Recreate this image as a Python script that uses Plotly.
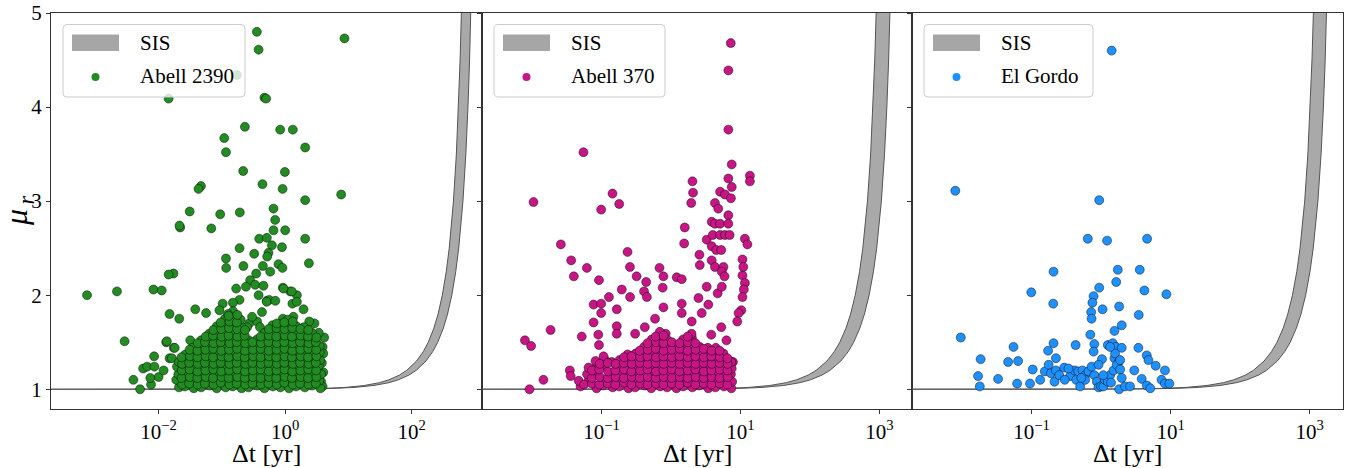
import plotly.graph_objects as go

# ---------------- SIS model band ----------------
sis_mu = [1.0000001, 1.0001, 1.001, 1.003, 1.01, 1.02, 1.04, 1.07, 1.1, 1.15, 1.2, 1.3, 1.4, 1.5,
          1.65, 1.8, 2.0, 2.25, 2.5, 2.75, 3.0, 3.5, 4.0, 4.5, 5.0, 5.5]
sis_frac = [5e-8, 5e-5, 0.0005, 0.0015, 0.004975, 0.0099, 0.0196, 0.0338, 0.0476, 0.0698, 0.0909,
            0.1304, 0.1667, 0.2, 0.2453, 0.2857, 0.3333, 0.3846, 0.4286, 0.4667, 0.5, 0.5556, 0.6,
            0.6364, 0.6667, 0.6923]
sis_T_low = [912, 1349, 1698]
sis_T_high = [1288, 2138, 2630]

# ---------------- Abell 2390 ----------------
a2390_dt_sparse = [0.357, 0.38, 8.65, 0.0144, 0.47, 0.50, 0.173,
                   0.231, 0.109, 0.116, 0.834, 1.32, 2.07,
                   0.217, 0.99, 0.438, 0.91, 0.0467, 0.0427, 2.07, 7.67,
                   0.031, 0.094, 0.192, 0.654, 0.695, 0.0219, 0.0214, 0.068, 0.654, 1.0,
                   0.389, 0.513, 2.07, 0.617, 0.89, 0.19, 0.324, 0.545, 0.52, 0.116, 0.117, 0.219, 0.444, 0.784, 0.906, 0.58, 2.37,
                   0.0172, 0.0144, 0.348, 0.28, 0.24, 0.336, 0.454, 0.168, 0.38, 0.92, 1.2, 1.53, 0.00074, 0.0022, 0.0083, 0.0112,
                   0.19, 0.149, 0.513, 0.56, 1.30, 1.95, 0.103, 0.038, 0.0149, 0.0212, 0.0563, 0.0916, 0.43, 0.92, 1.35, 0.51, 0.70, 0.94, 1.27, 1.53,
                   0.0029, 0.0132, 0.0174, 0.0085, 0.0149, 4.13, 0.004, 0.0051, 0.0057, 0.0066, 0.0086, 0.0076, 0.010, 0.012, 0.0074, 0.0162, 0.0135, 0.018, 0.0316,
                   3.9, 4.0, 3.8, 4.0, 3.7, 3.9, 3.4, 2.9, 2.4,
                   0.27, 0.36, 0.30, 0.25, 0.40]
a2390_mu_sparse = [4.80, 4.61, 4.73, 4.09, 4.10, 4.09, 4.34,
                   3.79, 3.67, 3.52, 3.76, 3.76, 3.57,
                   3.32, 3.31, 3.18, 3.13, 3.16, 3.13, 3.01, 3.07,
                   2.89, 2.86, 2.88, 2.92, 2.80, 2.72, 2.74, 2.71, 2.69, 2.69,
                   2.60, 2.61, 2.60, 2.53, 2.51, 2.50, 2.44, 2.45, 2.41, 2.39, 2.29, 2.31, 2.31, 2.33, 2.29, 2.25, 2.34,
                   2.23, 2.22, 2.23, 2.16, 2.09, 2.11, 2.10, 2.07, 2.00, 2.08, 2.04, 2.00, 2.00, 2.04, 2.06, 2.05,
                   1.95, 1.92, 1.94, 1.95, 1.91, 1.85, 1.91, 1.85, 1.80, 1.75, 1.81, 1.84, 1.82, 1.75, 1.77, 1.93, 1.94, 2.07, 2.04, 1.93,
                   1.51, 1.50, 1.44, 1.35, 1.33, 1.55, 1.10, 1.00, 1.22, 1.24, 1.24, 1.05, 1.13, 1.20, 1.12, 1.33, 1.51, 1.44, 1.52,
                   1.45, 1.38, 1.28, 1.18, 1.08, 1.03, 1.60, 1.70, 1.72,
                   1.70, 1.72, 1.77, 1.66, 1.66]
a2390_dt_dense = [0.021, 0.026, 0.036, 0.047, 0.064, 0.083, 0.115, 0.148, 0.205, 0.265, 0.36, 0.47, 0.64, 0.84, 1.15, 1.48, 2.05, 2.65, 3.6,
                  0.019, 0.028, 0.034, 0.049, 0.061, 0.087, 0.109, 0.155, 0.195, 0.275, 0.345, 0.49, 0.61, 0.87, 1.09, 1.55, 1.95, 2.75, 3.45,
                  0.0205, 0.0265, 0.0355, 0.046, 0.065, 0.082, 0.118, 0.146, 0.21, 0.26, 0.37, 0.46, 0.66, 0.82, 1.18, 1.45, 2.1, 2.6, 3.7,
                  0.0195, 0.0275, 0.0345, 0.05, 0.062, 0.088, 0.108, 0.157, 0.198, 0.28, 0.35, 0.5, 0.6, 0.88, 1.08, 1.58, 1.92, 2.8, 3.4,
                  0.021, 0.027, 0.036, 0.047, 0.064, 0.084, 0.114, 0.149, 0.2, 0.27, 0.36, 0.48, 0.64, 0.85, 1.13, 1.5, 2.02, 2.68, 3.55,
                  0.0265, 0.035, 0.048, 0.063, 0.086, 0.111, 0.152, 0.205, 0.268, 0.355, 0.485, 0.625, 0.86, 1.11, 1.52, 1.98, 2.72, 3.5,
                  0.034, 0.049, 0.062, 0.085, 0.113, 0.15, 0.198, 0.272, 0.35, 0.475, 0.635, 0.845, 1.14, 1.49, 2.04, 2.66, 3.5,
                  0.047, 0.064, 0.084, 0.11, 0.153, 0.202, 0.265, 0.36, 0.49, 0.62, 0.87, 1.1, 1.53, 1.97, 2.75,
                  0.063, 0.086, 0.112, 0.148, 0.197, 0.475, 0.64, 0.84, 1.15, 1.49, 2.05, 2.65,
                  0.083, 0.114, 0.15, 0.2, 0.63, 0.85, 1.12, 1.51, 1.98,
                  0.112, 0.152, 0.198, 1.1, 0.15, 0.125]
a2390_mu_dense = [1.02, 1.03, 1.01, 1.02, 1.04, 1.01, 1.02, 1.03, 1.01, 1.02, 1.04, 1.01, 1.03, 1.02, 1.01, 1.03, 1.02, 1.04, 1.01,
                  1.10, 1.08, 1.09, 1.11, 1.08, 1.10, 1.09, 1.07, 1.10, 1.09, 1.08, 1.11, 1.09, 1.08, 1.10, 1.09, 1.11, 1.08, 1.09,
                  1.16, 1.17, 1.15, 1.16, 1.18, 1.15, 1.16, 1.17, 1.15, 1.16, 1.18, 1.17, 1.15, 1.16, 1.17, 1.15, 1.16, 1.18, 1.16,
                  1.24, 1.23, 1.25, 1.24, 1.22, 1.25, 1.24, 1.23, 1.25, 1.24, 1.22, 1.24, 1.25, 1.23, 1.24, 1.25, 1.23, 1.24, 1.25,
                  1.29, 1.31, 1.32, 1.30, 1.31, 1.33, 1.31, 1.30, 1.32, 1.31, 1.30, 1.32, 1.31, 1.33, 1.30, 1.31, 1.32, 1.30, 1.31,
                  1.37, 1.38, 1.39, 1.37, 1.38, 1.40, 1.38, 1.37, 1.39, 1.38, 1.37, 1.39, 1.38, 1.37, 1.40, 1.38, 1.37, 1.39,
                  1.44, 1.46, 1.47, 1.45, 1.46, 1.47, 1.45, 1.46, 1.47, 1.45, 1.46, 1.47, 1.45, 1.46, 1.47, 1.45, 1.46,
                  1.52, 1.53, 1.54, 1.52, 1.53, 1.54, 1.52, 1.53, 1.54, 1.52, 1.53, 1.54, 1.52, 1.53, 1.54,
                  1.59, 1.60, 1.61, 1.60, 1.59, 1.60, 1.61, 1.59, 1.61, 1.60, 1.59, 1.60,
                  1.67, 1.68, 1.69, 1.67, 1.68, 1.69, 1.68, 1.67, 1.66,
                  1.75, 1.76, 1.74, 1.74, 1.83, 1.80]
a2390_dt_fill = [0.0235, 0.0305, 0.0415, 0.054, 0.074, 0.096, 0.132, 0.172, 0.235, 0.305, 0.415, 0.545, 0.74, 0.97, 1.32, 1.72, 2.35, 3.05,
                 0.023, 0.0312, 0.041, 0.0555, 0.0725, 0.099, 0.128, 0.176, 0.23, 0.312, 0.41, 0.555, 0.725, 0.985, 1.28, 1.76, 2.3, 3.12,
                 0.0232, 0.0309, 0.0412, 0.055, 0.0733, 0.0977, 0.130, 0.174, 0.232, 0.309, 0.412, 0.55, 0.733, 0.977, 1.30, 1.74, 2.32, 3.09,
                 0.0235, 0.0305, 0.0415, 0.054, 0.074, 0.096, 0.132, 0.172, 0.235, 0.305, 0.415, 0.545, 0.74, 0.97, 1.32, 1.72, 2.35, 3.05,
                 0.023, 0.0312, 0.041, 0.0555, 0.0725, 0.099, 0.128, 0.176, 0.23, 0.312, 0.41, 0.555, 0.725, 0.985, 1.28, 1.76, 2.3, 3.12,
                 0.0309, 0.0412, 0.055, 0.0733, 0.0977, 0.130, 0.174, 0.232, 0.309, 0.412, 0.55, 0.733, 0.977, 1.30, 1.74, 2.32, 3.09,
                 0.0415, 0.054, 0.074, 0.096, 0.132, 0.172, 0.235, 0.305, 0.415, 0.545, 0.74, 0.97, 1.32, 1.72, 2.35, 3.05,
                 0.0555, 0.0725, 0.099, 0.128, 0.176, 0.23, 0.41, 0.555, 0.725, 0.985, 1.28, 1.76, 2.3, 3.12,
                 0.0733, 0.0977, 0.130, 0.174, 0.232, 0.55, 0.733, 0.977, 1.30, 1.74, 2.32,
                 0.096, 0.132, 0.172, 0.74, 0.97, 1.32,
                 0.128, 0.176]
a2390_mu_fill = [1.05, 1.06, 1.05, 1.06, 1.05, 1.07, 1.05, 1.06, 1.05, 1.06, 1.05, 1.06, 1.05, 1.07, 1.05, 1.06, 1.05, 1.06,
                 1.12, 1.13, 1.12, 1.13, 1.12, 1.13, 1.12, 1.13, 1.12, 1.13, 1.12, 1.13, 1.12, 1.13, 1.12, 1.13, 1.12, 1.13,
                 1.20, 1.21, 1.19, 1.20, 1.21, 1.19, 1.20, 1.21, 1.19, 1.20, 1.21, 1.19, 1.20, 1.21, 1.19, 1.20, 1.21, 1.20,
                 1.27, 1.28, 1.27, 1.28, 1.27, 1.28, 1.27, 1.28, 1.27, 1.28, 1.27, 1.28, 1.27, 1.28, 1.27, 1.28, 1.27, 1.28,
                 1.34, 1.35, 1.34, 1.35, 1.34, 1.35, 1.34, 1.35, 1.34, 1.35, 1.34, 1.35, 1.34, 1.35, 1.34, 1.35, 1.34, 1.35,
                 1.42, 1.41, 1.42, 1.43, 1.41, 1.42, 1.43, 1.41, 1.42, 1.43, 1.41, 1.42, 1.43, 1.41, 1.42, 1.43, 1.42,
                 1.49, 1.50, 1.49, 1.50, 1.49, 1.50, 1.49, 1.50, 1.49, 1.50, 1.49, 1.50, 1.49, 1.50, 1.49, 1.50,
                 1.56, 1.57, 1.56, 1.57, 1.56, 1.57, 1.56, 1.57, 1.56, 1.57, 1.56, 1.57, 1.56, 1.55,
                 1.63, 1.64, 1.65, 1.64, 1.63, 1.64, 1.65, 1.64, 1.65, 1.64, 1.63,
                 1.71, 1.72, 1.71, 1.70, 1.71, 1.72,
                 1.78, 1.79]

# ---------------- Abell 370 ----------------
a370_dt_sparse = [7.26, 6.71, 6.71, 0.055, 0.0105, 7.5, 13.7, 13.7, 6.7, 7.5,
                  2.04, 2.08, 1.96, 5.1, 6.0, 7.3, 4.3, 4.8, 6.7, 3.86, 4.3, 5.1, 6.7,
                  1.58, 1.55, 3.27, 4.0, 5.1, 6.0, 7.0, 3.86, 4.5, 5.3, 11.6, 12.6, 0.026,
                  2.57, 2.6, 3.86, 4.3, 5.7, 10.7, 0.0366, 0.040, 0.237, 0.257, 0.0616, 0.092, 0.144, 0.18, 0.099,
                  0.684, 0.78, 1.21, 1.43, 0.32, 0.44, 0.76, 0.196, 0.258, 0.41, 0.45, 0.128, 0.166, 0.077, 0.099, 0.099,
                  0.077, 0.166, 0.78, 1.43, 1.43, 2.49, 3.27, 3.45, 4.7, 5.4, 5.4, 5.9,
                  10.7, 11.6, 11.2, 10.7, 10.3, 9.4, 9.0, 11.0, 7.8,
                  0.0185, 0.0079, 0.0097, 0.0092, 0.0146, 0.035, 0.036, 0.052, 0.09, 0.092, 0.166, 0.305, 0.42, 0.59, 0.84, 1.99, 2.77, 3.8, 5.3, 6.3]
a370_mu_sparse = [4.68, 4.39, 3.76, 3.52, 2.99, 3.39, 3.27, 3.21, 3.24, 3.15,
                  3.21, 3.09, 2.98, 3.10, 3.07, 3.03, 2.98, 2.92, 2.85, 2.78, 2.76, 2.76, 2.76,
                  2.72, 2.55, 2.59, 2.64, 2.64, 2.64, 2.64, 2.52, 2.48, 2.48, 2.60, 2.54, 2.54,
                  2.43, 2.32, 2.37, 2.30, 2.30, 2.38, 2.37, 2.20, 2.46, 2.30, 2.29, 2.16, 3.08, 2.97, 2.91,
                  2.29, 2.20, 2.19, 2.17, 2.20, 2.14, 2.08, 2.06, 1.98, 2.04, 1.98, 1.98, 1.85, 1.90, 1.91, 1.81,
                  1.71, 1.67, 1.87, 1.91, 1.81, 1.97, 2.09, 1.90, 2.02, 2.09, 2.25, 2.20,
                  2.21, 2.13, 2.06, 1.98, 1.84, 1.81, 1.72, 2.30, 1.29,
                  1.63, 1.52, 1.46, 1.00, 1.10, 1.20, 1.14, 1.56, 1.58, 1.47, 1.59, 1.59, 1.66, 1.75, 1.59, 1.72, 1.81, 1.58, 1.66, 1.52]
a370_dt_dense = [0.05, 0.085, 0.105, 0.145, 0.18, 0.245, 0.305, 0.415, 0.52, 0.70, 0.88, 1.2, 1.5, 2.03, 2.55, 3.45, 4.35, 5.8, 7.4,
                 0.047, 0.066, 0.11, 0.138, 0.187, 0.235, 0.32, 0.40, 0.54, 0.68, 0.92, 1.15, 1.56, 1.95, 2.63, 3.32, 4.5, 5.65, 7.6,
                 0.062, 0.081, 0.143, 0.18, 0.242, 0.308, 0.41, 0.525, 0.695, 0.89, 1.18, 1.52, 2.0, 2.6, 3.4, 4.4, 5.8, 7.3,
                 0.065, 0.085, 0.106, 0.185, 0.236, 0.315, 0.40, 0.535, 0.685, 0.91, 1.16, 1.54, 1.98, 2.58, 3.36, 4.45, 5.7, 7.5,
                 0.082, 0.11, 0.14, 0.182, 0.24, 0.31, 0.41, 0.53, 0.69, 0.9, 1.17, 1.53, 1.99, 2.59, 3.38, 4.41, 5.74, 7.4,
                 0.107, 0.238, 0.31, 0.4, 0.53, 0.7, 0.9, 1.16, 1.52, 2.0, 2.6, 3.35, 4.4, 5.7,
                 0.41, 0.53, 0.69, 0.89, 1.18, 1.55, 1.98, 2.6, 3.4, 4.42,
                 0.53, 0.69, 0.9, 1.5, 2.0,
                 0.69, 1.98]
a370_mu_dense = [1.03, 1.01, 1.04, 1.02, 1.03, 1.01, 1.02, 1.04, 1.01, 1.03, 1.02, 1.01, 1.03, 1.02, 1.04, 1.01, 1.02, 1.03, 1.01,
                 1.09, 1.10, 1.08, 1.09, 1.11, 1.08, 1.10, 1.09, 1.08, 1.10, 1.09, 1.11, 1.08, 1.10, 1.09, 1.08, 1.10, 1.09, 1.08,
                 1.16, 1.17, 1.15, 1.16, 1.17, 1.15, 1.16, 1.18, 1.15, 1.16, 1.17, 1.15, 1.16, 1.17, 1.15, 1.16, 1.17, 1.16,
                 1.23, 1.24, 1.25, 1.24, 1.23, 1.25, 1.24, 1.23, 1.25, 1.24, 1.23, 1.24, 1.25, 1.23, 1.24, 1.25, 1.23, 1.22,
                 1.30, 1.32, 1.29, 1.31, 1.32, 1.30, 1.31, 1.32, 1.30, 1.31, 1.32, 1.30, 1.31, 1.32, 1.30, 1.31, 1.32, 1.29,
                 1.35, 1.37, 1.38, 1.39, 1.38, 1.37, 1.39, 1.38, 1.37, 1.39, 1.38, 1.37, 1.39, 1.38,
                 1.45, 1.46, 1.47, 1.45, 1.46, 1.47, 1.46, 1.45, 1.44, 1.44,
                 1.53, 1.54, 1.52, 1.53, 1.55,
                 1.61, 1.59]
a370_dt_fill = [0.056, 0.073, 0.093, 0.124, 0.158, 0.212, 0.27, 0.36, 0.46, 0.61, 0.78, 1.03, 1.33, 1.75, 2.25, 2.98, 3.82, 5.05, 6.5,
                0.0724, 0.0944, 0.123, 0.160, 0.209, 0.273, 0.356, 0.464, 0.604, 0.787, 1.026, 1.34, 1.74, 2.27, 2.96, 3.85, 5.02, 6.55,
                0.073, 0.093, 0.124, 0.158, 0.212, 0.27, 0.36, 0.46, 0.61, 0.78, 1.03, 1.33, 1.75, 2.25, 2.98, 3.82, 5.05, 6.5,
                0.0944, 0.123, 0.160, 0.209, 0.273, 0.356, 0.464, 0.604, 0.787, 1.026, 1.34, 1.74, 2.27, 2.96, 3.85, 5.02, 6.55,
                0.212, 0.27, 0.36, 0.46, 0.61, 0.78, 1.03, 1.33, 1.75, 2.25, 2.98, 3.82, 5.05, 6.5,
                0.356, 0.464, 0.604, 0.787, 1.026, 1.34, 1.74, 2.27, 2.96, 3.85, 5.02,
                0.46, 0.61, 0.78, 1.03, 1.33, 1.75, 2.25,
                0.604, 0.787, 1.74]
a370_mu_fill = [1.05, 1.06, 1.05, 1.06, 1.05, 1.07, 1.05, 1.06, 1.05, 1.06, 1.05, 1.06, 1.05, 1.07, 1.05, 1.06, 1.05, 1.06, 1.05,
                1.12, 1.13, 1.12, 1.13, 1.12, 1.13, 1.12, 1.13, 1.12, 1.13, 1.12, 1.13, 1.12, 1.13, 1.12, 1.13, 1.12, 1.13,
                1.20, 1.21, 1.19, 1.20, 1.21, 1.19, 1.20, 1.21, 1.19, 1.20, 1.21, 1.19, 1.20, 1.21, 1.19, 1.20, 1.21, 1.20,
                1.27, 1.28, 1.27, 1.28, 1.27, 1.28, 1.27, 1.28, 1.27, 1.28, 1.27, 1.28, 1.27, 1.28, 1.27, 1.28, 1.27,
                1.34, 1.35, 1.34, 1.35, 1.34, 1.35, 1.34, 1.35, 1.34, 1.35, 1.34, 1.35, 1.34, 1.33,
                1.41, 1.42, 1.43, 1.41, 1.42, 1.43, 1.41, 1.42, 1.43, 1.41, 1.41,
                1.49, 1.50, 1.49, 1.50, 1.49, 1.50, 1.49,
                1.56, 1.57, 1.56]

# ---------------- El Gordo ----------------
elgordo_dt = [1.42, 0.0080, 0.94, 0.644, 1.22, 4.59, 0.207, 1.74, 3.6, 1.65, 0.099, 4.2, 8.7, 0.94, 0.78, 0.75, 0.205, 1.82, 1.05, 0.72, 0.73, 3.48, 1.98, 1.56, 0.70, 0.0096,
              0.207, 0.43, 0.80, 1.25, 1.47, 1.63, 1.98, 0.055, 3.44, 0.173, 0.78, 4.54, 0.0185, 0.046, 0.064, 0.224, 1.03, 1.56, 1.79, 4.8, 6.1, 8.3,
              0.017, 0.033, 0.018, 0.062, 0.095, 0.104, 0.133, 0.155, 0.176, 0.19, 0.214, 0.224, 0.295, 0.36, 0.417, 0.47, 0.54, 0.59, 0.44, 0.50,
              0.66, 0.80, 0.87, 0.92, 1.0, 1.08, 1.14, 1.25, 1.35, 1.51, 1.68, 1.88, 1.98, 1.82, 2.21, 2.61, 3.0, 3.84, 4.55, 5.1, 7.4, 8.3, 9.6,
              0.34, 0.59, 0.73, 1.08, 0.92, 1.39, 1.59, 1.35, 1.88, 0.25, 0.52, 0.30]
elgordo_mu = [4.60, 3.11, 3.01, 2.60, 2.58, 2.60, 2.25, 2.27, 2.27, 2.14, 2.03, 2.05, 2.01, 2.08, 1.99, 1.92, 1.91, 1.88, 1.85, 1.82, 1.75, 1.79, 1.68, 1.62, 1.58, 1.55,
              1.49, 1.47, 1.48, 1.47, 1.49, 1.45, 1.44, 1.45, 1.44, 1.41, 1.40, 1.36, 1.32, 1.29, 1.30, 1.33, 1.32, 1.33, 1.29, 1.31, 1.25, 1.20,
              1.14, 1.11, 1.03, 1.06, 1.06, 1.21, 1.10, 1.19, 1.26, 1.17, 1.08, 1.20, 1.23, 1.14, 1.20, 1.19, 1.20, 1.15, 1.10, 1.03,
              1.19, 1.15, 1.08, 1.02, 1.03, 1.03, 1.10, 1.08, 1.15, 1.20, 1.26, 1.21, 1.12, 1.00, 1.03, 1.03, 1.20, 1.11, 1.04, 1.01, 1.10, 1.06, 1.06,
              1.22, 1.10, 1.24, 1.15, 1.26, 1.07, 1.38, 1.45, 1.31, 1.15, 1.12, 1.10]

cluster_names = ["Abell 2390", "Abell 370", "El Gordo"]
cluster_colors = ["#228B22", "#C71585", "#1E90FF"]
x_tickvals = [[1e-2, 1e0, 1e2], [1e-1, 1e1, 1e3], [1e-1, 1e1, 1e3]]
x_ticktext = [["10<sup>−2</sup>", "10<sup>0</sup>", "10<sup>2</sup>"],
              ["10<sup>−1</sup>", "10<sup>1</sup>", "10<sup>3</sup>"],
              ["10<sup>−1</sup>", "10<sup>1</sup>", "10<sup>3</sup>"]]
y_tickvals = [1, 2, 3, 4, 5]
legend_sis_label = "SIS"

cluster_dt = [a2390_dt_sparse + a2390_dt_dense + a2390_dt_fill,
              a370_dt_sparse + a370_dt_dense + a370_dt_fill,
              elgordo_dt]
cluster_mu = [a2390_mu_sparse + a2390_mu_dense + a2390_mu_fill,
              a370_mu_sparse + a370_mu_dense + a370_mu_fill,
              elgordo_mu]

FONT = "Liberation Serif"
W, H = 1353, 468
ML, MR, MT, MB = 51, 10, 13, 59
PW, PH = W - ML - MR, H - MT - MB


def px_x(p):
    return (p - ML) / PW


def px_y(p):
    return (H - MB - p) / PH


def rounded_box(x0, y0, x1, y1, r):
    pts = [("M", x0 + r, y0), ("L", x1 - r, y0), ("Q", x1, y0, x1, y0 + r), ("L", x1, y1 - r),
           ("Q", x1, y1, x1 - r, y1), ("L", x0 + r, y1), ("Q", x0, y1, x0, y1 - r),
           ("L", x0, y0 + r), ("Q", x0, y0, x0 + r, y0)]
    out = []
    for p in pts:
        cmd, coords = p[0], p[1:]
        pairs = [f"{px_x(coords[k]):.5f},{px_y(coords[k + 1]):.5f}" for k in range(0, len(coords), 2)]
        out.append(cmd + " ".join(pairs))
    return " ".join(out) + " Z"


fig = go.Figure()

x_ranges = [[-3.70, 3.11], [-2.72, 3.47], [-2.72, 3.48]]
domains = [[0.0, 0.3336], [0.3336, 0.6664], [0.6664, 1.0]]
leg_left = [63, 494, 924]
leg_right = [245, 665, 1093]

for i in range(3):
    sfx = "" if i == 0 else str(i + 1)
    xa, ya = "x" + sfx, "y" + sfx
    xs = [sis_T_low[i] * f for f in sis_frac] + [sis_T_high[i] * f for f in reversed(sis_frac)]
    ys = sis_mu + sis_mu[::-1]
    fig.add_trace(go.Scatter(x=xs, y=ys, mode="lines", fill="toself", fillcolor="#a9a9a9",
                             line=dict(color="#555555", width=1), name=legend_sis_label,
                             xaxis=xa, yaxis=ya, hoverinfo="skip"))
    fig.add_trace(go.Scatter(x=cluster_dt[i], y=cluster_mu[i], mode="markers", name=cluster_names[i],
                             marker=dict(size=9, color=cluster_colors[i],
                                         line=dict(width=0.6, color="rgba(0,0,0,0.75)")),
                             xaxis=xa, yaxis=ya))

    axis_common = dict(showline=True, mirror=True, linecolor="#333333", linewidth=1,
                       ticks="outside", ticklen=4, tickcolor="#333333", tickwidth=1,
                       showgrid=False, zeroline=False, automargin=False,
                       tickfont=dict(family=FONT, size=21, color="black"))
    fig.layout["xaxis" + sfx] = dict(type="log", range=x_ranges[i], domain=domains[i], anchor=ya,
                                     tickvals=x_tickvals[i], ticktext=x_ticktext[i], **axis_common)
    fig.layout["yaxis" + sfx] = dict(range=[0.79, 5.0], domain=[0, 1], anchor=xa,
                                     tickvals=y_tickvals, showticklabels=(i == 0), **axis_common)

    # legend (box, swatch, marker, labels)
    L, R = leg_left[i], leg_right[i]
    fig.add_shape(type="path", xref="paper", yref="paper", layer="above",
                  path=rounded_box(L, 24.5, R, 97, 4),
                  fillcolor="rgba(255,255,255,0.8)", line=dict(color="#cccccc", width=1))
    fig.add_shape(type="rect", xref="paper", yref="paper", layer="above",
                  x0=px_x(L + 9), x1=px_x(L + 56), y0=px_y(51), y1=px_y(34.5),
                  fillcolor="#a6a6a6", line=dict(width=0))
    fig.add_shape(type="circle", xref="paper", yref="paper", layer="above",
                  x0=px_x(L + 28.5), x1=px_x(L + 36.5), y0=px_y(81), y1=px_y(73),
                  fillcolor=cluster_colors[i], line=dict(width=0))
    fig.add_annotation(text=legend_sis_label, xref="paper", yref="paper",
                       x=px_x(L + 75), y=px_y(43), xanchor="left", yanchor="middle",
                       showarrow=False, font=dict(family=FONT, size=21, color="black"))
    fig.add_annotation(text=cluster_names[i], xref="paper", yref="paper",
                       x=px_x(L + 75), y=px_y(76), xanchor="left", yanchor="middle",
                       showarrow=False, font=dict(family=FONT, size=21, color="black"))

    fig.add_annotation(text="Δt [yr]", xref="paper", yref="paper",
                       x=(domains[i][0] + domains[i][1]) / 2, y=px_y(453),
                       xanchor="center", yanchor="middle", showarrow=False,
                       font=dict(family=FONT, size=26, color="black"))

fig.add_annotation(text="<i>μ</i><sub>\u2009<i>r</i></sub>", xref="paper", yref="paper",
                   x=px_x(18), y=0.5, xanchor="center", yanchor="middle", textangle=-90,
                   showarrow=False, font=dict(family=FONT, size=32, color="black"))

fig.update_layout(width=W, height=H, margin=dict(l=ML, r=MR, t=MT, b=MB),
                  plot_bgcolor="white", paper_bgcolor="white", showlegend=False)

fig.write_html("out.html", config={"displayModeBar": False},
               post_script="document.body.style.margin='0px';")
